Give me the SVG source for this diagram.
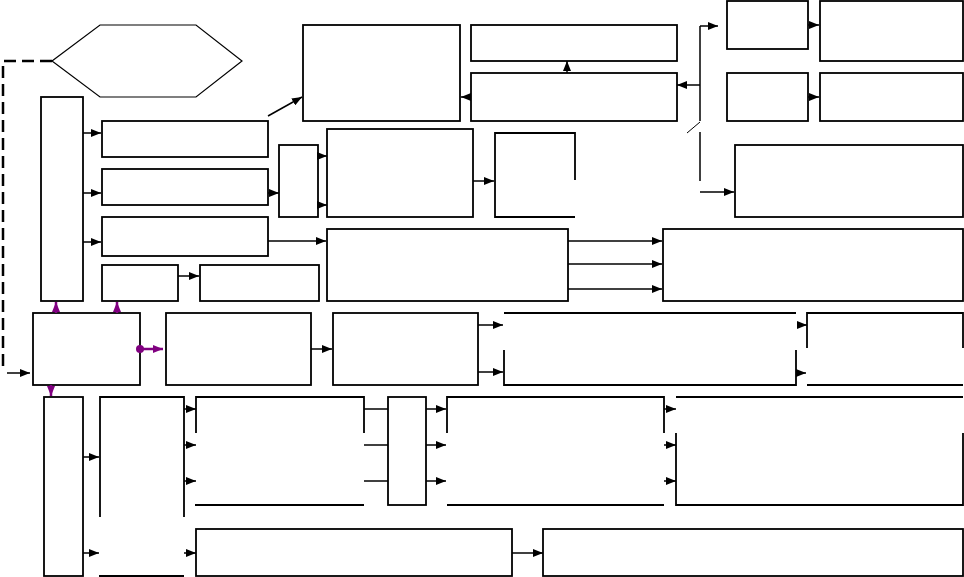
<svg xmlns="http://www.w3.org/2000/svg" width="964" height="577" viewBox="0 0 964 577">
<defs>
<marker id="ah" viewBox="0 0 10 8" markerWidth="10" markerHeight="8" refX="10" refY="4" orient="auto" markerUnits="userSpaceOnUse"><path d="M0,0 L10,4 L0,8 z" fill="#000"/></marker>
<marker id="ahp" viewBox="0 0 10 8" markerWidth="10" markerHeight="8" refX="10" refY="4" orient="auto" markerUnits="userSpaceOnUse"><path d="M0,0 L10,4 L0,8 z" fill="#800080"/></marker>
</defs>
<style>
.b{fill:none;stroke:#000;stroke-width:1.8}
.c{fill:none;stroke:#000;stroke-width:1.5}
.a{fill:none;stroke:#000;stroke-width:1.5;marker-end:url(#ah)}
.p{fill:none;stroke:#800080;stroke-width:2.5;marker-end:url(#ahp)}
</style>
<rect width="964" height="577" fill="#fff"/>
<g id="n1"><polygon class="b" style="stroke-width:1.2" points="52,61 100,25 196,25 242,61 196,97 100,97"/></g>
<g id="n2"><rect class="b" x="41" y="97" width="42" height="204"/></g>
<g id="n3"><rect class="b" x="102" y="121" width="166" height="36"/></g>
<g id="n4"><rect class="b" x="102" y="169" width="166" height="36"/></g>
<g id="n5"><rect class="b" x="102" y="217" width="166" height="39"/></g>
<g id="n6"><rect class="b" x="102" y="265" width="76" height="36"/></g>
<g id="n7"><rect class="b" x="200" y="265" width="119" height="36"/></g>
<g id="n8"><rect class="b" x="279" y="145" width="39" height="72"/></g>
<g id="n9"><rect class="b" x="303" y="25" width="157" height="96"/></g>
<g id="n10"><rect class="b" x="471" y="25" width="206" height="36"/></g>
<g id="n11"><rect class="b" x="471" y="73" width="206" height="48"/></g>
<g id="n12"><rect class="b" x="727" y="1" width="81" height="48"/></g>
<g id="n13"><rect class="b" x="820" y="1" width="143" height="60"/></g>
<g id="n14"><rect class="b" x="727" y="73" width="81" height="48"/></g>
<g id="n15"><rect class="b" x="820" y="73" width="143" height="48"/></g>
<g id="n16"><rect class="b" x="327" y="129" width="146" height="88"/></g>
<g id="n17"><path class="b" d="M575,180 V133 H495 V217 H575"/></g>
<g id="n18"><rect class="b" x="735" y="145" width="228" height="72"/></g>
<g id="n19"><rect class="b" x="327" y="229" width="241" height="72"/></g>
<g id="n20"><rect class="b" x="663" y="229" width="300" height="72"/></g>
<g id="n21"><rect class="b" x="33" y="313" width="107" height="72"/></g>
<g id="n22"><rect class="b" x="166" y="313" width="145" height="72"/></g>
<g id="n23"><rect class="b" x="333" y="313" width="145" height="72"/></g>
<g id="n24"><path class="b" d="M504,350 V385 H796 V350 M504,313 H796"/></g>
<g id="n25"><path class="b" d="M807,348 V313 H963 V348 M807,385 H963"/></g>
<g id="n26"><rect class="b" x="44" y="397" width="39" height="179"/></g>
<g id="n27"><path class="b" d="M100,517 V397 H184 V517 M99,576 H184"/></g>
<g id="n28"><path class="b" d="M196,433 V397 H364 V433 M195,505 H364"/></g>
<g id="n29"><rect class="b" x="388" y="397" width="38" height="108"/></g>
<g id="n30"><path class="b" d="M447,433 V397 H664 V433 M447,505 H664"/></g>
<g id="n31"><path class="b" d="M676,397 H963 M676,433 V505 H963 V433"/></g>
<g id="n32"><rect class="b" x="196" y="529" width="316" height="47"/></g>
<g id="n33"><rect class="b" x="543" y="529" width="420" height="47"/></g>
<g id="connectors">
<path d="M52,61 H3 V372" fill="none" stroke="#000" stroke-width="2.5" stroke-dasharray="12,6"/>
<line class="a" x1="7" y1="373" x2="30" y2="373"/>
<line class="a" x1="83" y1="133" x2="101" y2="133"/>
<line class="a" x1="83" y1="193" x2="101" y2="193"/>
<line class="a" x1="83" y1="242" x2="101" y2="242"/>
<line class="a" x1="178" y1="276" x2="199" y2="276"/>
<line class="a" x1="268" y1="193" x2="279" y2="193"/>
<line class="a" x1="318" y1="156" x2="327" y2="156"/>
<line class="a" x1="318" y1="205" x2="327" y2="205"/>
<line class="a" x1="268" y1="116" x2="302" y2="97"/>
<line class="a" x1="268" y1="241" x2="326" y2="241"/>
<line class="a" x1="473" y1="181" x2="494" y2="181"/>
<line class="a" x1="471" y1="97" x2="461" y2="97"/>
<line class="a" x1="567" y1="73" x2="567" y2="61"/>
<path class="c" d="M700,26 V121"/>
<line class="a" x1="700" y1="26" x2="718" y2="26"/>
<line class="a" x1="700" y1="85" x2="677" y2="85"/>
<line class="c" style="stroke-width:1" x1="687" y1="133" x2="700" y2="122"/>
<line class="c" x1="700" y1="132" x2="700" y2="181"/>
<line class="a" x1="700" y1="192" x2="734" y2="192"/>
<line class="a" x1="808" y1="25" x2="819" y2="25"/>
<line class="a" x1="808" y1="97" x2="819" y2="97"/>
<line class="a" x1="568" y1="241" x2="662" y2="241"/>
<line class="a" x1="568" y1="264" x2="662" y2="264"/>
<line class="a" x1="568" y1="289" x2="662" y2="289"/>
<line class="p" x1="56" y1="313" x2="56" y2="302"/>
<line class="p" x1="117" y1="313" x2="117" y2="302"/>
<line class="p" x1="51" y1="385" x2="51" y2="396"/>
<circle cx="140" cy="349" r="4" fill="#800080"/>
<line class="p" x1="140" y1="349" x2="163" y2="349"/>
<line class="a" x1="311" y1="349" x2="332" y2="349"/>
<line class="a" x1="478" y1="325" x2="503" y2="325"/>
<line class="a" x1="478" y1="372" x2="503" y2="372"/>
<line class="a" x1="797" y1="325" x2="807" y2="325"/>
<line class="a" x1="796" y1="373" x2="806" y2="373"/>
<line class="a" x1="83" y1="457" x2="99" y2="457"/>
<line class="a" x1="83" y1="553" x2="99" y2="553"/>
<line class="a" x1="184" y1="409" x2="196" y2="409"/>
<line class="a" x1="184" y1="445" x2="196" y2="445"/>
<line class="a" x1="184" y1="481" x2="196" y2="481"/>
<line class="a" x1="184" y1="553" x2="196" y2="553"/>
<line class="c" x1="364" y1="409" x2="388" y2="409"/>
<line class="c" x1="364" y1="445" x2="388" y2="445"/>
<line class="c" x1="364" y1="481" x2="388" y2="481"/>
<line class="a" x1="426" y1="409" x2="446" y2="409"/>
<line class="a" x1="426" y1="445" x2="446" y2="445"/>
<line class="a" x1="426" y1="481" x2="446" y2="481"/>
<line class="a" x1="664" y1="409" x2="676" y2="409"/>
<line class="a" x1="664" y1="445" x2="676" y2="445"/>
<line class="a" x1="664" y1="481" x2="676" y2="481"/>
<line class="a" x1="512" y1="553" x2="543" y2="553"/>
</g>
</svg>
